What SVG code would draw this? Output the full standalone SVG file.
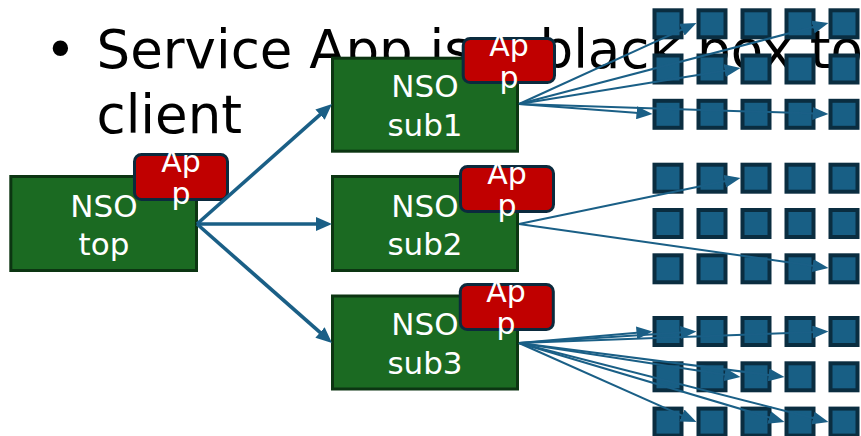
<svg xmlns="http://www.w3.org/2000/svg" width="861" height="436" viewBox="0 0 861 436">
<defs>
<style>
.title{font-family:"DejaVu Sans",sans-serif;font-size:53px;fill:#000}
.nso{fill:#1b6a22;stroke:#0c3512;stroke-width:3}
.app{fill:#c00000;stroke:#0b2a3d;stroke-width:3}
.lbl{font-family:"DejaVu Sans",sans-serif;font-size:31px;fill:#fff;text-anchor:middle}
.albl{font-family:"DejaVu Sans",sans-serif;font-size:30px;fill:#fff;text-anchor:middle}
.sq{fill:#185f85;stroke:#0a2d40;stroke-width:4}
.main{stroke:#1a5f86;stroke-width:3.6;fill:none;marker-end:url(#hm)}
.thin{stroke:#1a5f86;stroke-width:2;fill:none;marker-end:url(#ht)}
</style>
<marker id="hm" markerUnits="userSpaceOnUse" markerWidth="16" markerHeight="14" refX="11" refY="7" orient="auto"><path d="M0,0 L16,7 L0,14 z" fill="#1a5f86"/></marker>
<marker id="ht" markerUnits="userSpaceOnUse" markerWidth="16" markerHeight="13" refX="12" refY="6.5" orient="auto"><path d="M0,0 L16,6.5 L0,13 z" fill="#1a5f86"/></marker>
</defs>
<rect width="861" height="436" fill="#fff"/>
<g id="title">
<text class="title" x="60.5" y="68" text-anchor="middle">•</text>
<text class="title" y="68"><tspan x="96.5">Service App is</tspan><tspan x="539.5">black box to</tspan></text>
<text class="title" x="96.5" y="132.5">client</text>
</g>
<g id="grid">
<rect class="sq" x="654.5" y="10.3" width="27" height="27"/><rect class="sq" x="698.5" y="10.3" width="27" height="27"/><rect class="sq" x="742.5" y="10.3" width="27" height="27"/><rect class="sq" x="786.5" y="10.3" width="27" height="27"/><rect class="sq" x="830.5" y="10.3" width="27" height="27"/>
<rect class="sq" x="654.5" y="55.5" width="27" height="27"/><rect class="sq" x="698.5" y="55.5" width="27" height="27"/><rect class="sq" x="742.5" y="55.5" width="27" height="27"/><rect class="sq" x="786.5" y="55.5" width="27" height="27"/><rect class="sq" x="830.5" y="55.5" width="27" height="27"/>
<rect class="sq" x="654.5" y="100.8" width="27" height="27"/><rect class="sq" x="698.5" y="100.8" width="27" height="27"/><rect class="sq" x="742.5" y="100.8" width="27" height="27"/><rect class="sq" x="786.5" y="100.8" width="27" height="27"/><rect class="sq" x="830.5" y="100.8" width="27" height="27"/>
<rect class="sq" x="654.5" y="164.7" width="27" height="27"/><rect class="sq" x="698.5" y="164.7" width="27" height="27"/><rect class="sq" x="742.5" y="164.7" width="27" height="27"/><rect class="sq" x="786.5" y="164.7" width="27" height="27"/><rect class="sq" x="830.5" y="164.7" width="27" height="27"/>
<rect class="sq" x="654.5" y="210" width="27" height="27"/><rect class="sq" x="698.5" y="210" width="27" height="27"/><rect class="sq" x="742.5" y="210" width="27" height="27"/><rect class="sq" x="786.5" y="210" width="27" height="27"/><rect class="sq" x="830.5" y="210" width="27" height="27"/>
<rect class="sq" x="654.5" y="255.3" width="27" height="27"/><rect class="sq" x="698.5" y="255.3" width="27" height="27"/><rect class="sq" x="742.5" y="255.3" width="27" height="27"/><rect class="sq" x="786.5" y="255.3" width="27" height="27"/><rect class="sq" x="830.5" y="255.3" width="27" height="27"/>
<rect class="sq" x="654.5" y="318" width="27" height="27"/><rect class="sq" x="698.5" y="318" width="27" height="27"/><rect class="sq" x="742.5" y="318" width="27" height="27"/><rect class="sq" x="786.5" y="318" width="27" height="27"/><rect class="sq" x="830.5" y="318" width="27" height="27"/>
<rect class="sq" x="654.5" y="363.3" width="27" height="27"/><rect class="sq" x="698.5" y="363.3" width="27" height="27"/><rect class="sq" x="742.5" y="363.3" width="27" height="27"/><rect class="sq" x="786.5" y="363.3" width="27" height="27"/><rect class="sq" x="830.5" y="363.3" width="27" height="27"/>
<rect class="sq" x="654.5" y="408.6" width="27" height="27"/><rect class="sq" x="698.5" y="408.6" width="27" height="27"/><rect class="sq" x="742.5" y="408.6" width="27" height="27"/><rect class="sq" x="786.5" y="408.6" width="27" height="27"/><rect class="sq" x="830.5" y="408.6" width="27" height="27"/>
</g>
<g id="nso-top">
<rect class="nso" x="10.8" y="176.5" width="185.7" height="94"/>
<text class="lbl" x="104" y="216.5">NSO</text>
<text class="lbl" x="104" y="254.5">top</text>
</g>
<g id="app-top">
<rect class="app" x="134.5" y="154.5" width="93" height="45" rx="7"/>
<text class="albl" x="181" y="171.5">Ap</text>
<text class="albl" x="181" y="203.5">p</text>
</g>
<g id="nso-sub1">
<rect class="nso" x="332.5" y="58.2" width="185" height="93"/>
<text class="lbl" x="425" y="97">NSO</text>
<text class="lbl" x="425" y="135.5">sub1</text>
</g>
<g id="app-sub1">
<rect class="app" x="463.2" y="38.5" width="91.3" height="44" rx="7"/>
<text class="albl" x="509" y="55.5">Ap</text>
<text class="albl" x="509" y="87.5">p</text>
</g>
<g id="nso-sub2">
<rect class="nso" x="332.5" y="176.5" width="185" height="94"/>
<text class="lbl" x="425" y="216.5">NSO</text>
<text class="lbl" x="425" y="254.5">sub2</text>
</g>
<g id="app-sub2">
<rect class="app" x="460.5" y="166.5" width="93" height="45" rx="7"/>
<text class="albl" x="507" y="183.5">Ap</text>
<text class="albl" x="507" y="215.5">p</text>
</g>
<g id="nso-sub3">
<rect class="nso" x="332.5" y="296" width="185" height="93"/>
<text class="lbl" x="425" y="335">NSO</text>
<text class="lbl" x="425" y="373.5">sub3</text>
</g>
<g id="app-sub3">
<rect class="app" x="460.3" y="284.5" width="93" height="45" rx="7"/>
<text class="albl" x="506" y="301.5">Ap</text>
<text class="albl" x="506" y="333.5">p</text>
</g>
<g id="connectors">
<line class="main" x1="197" y1="224" x2="328.26" y2="107.32"/>
<line class="main" x1="197" y1="224" x2="327" y2="224"/>
<line class="main" x1="197" y1="224" x2="328.25" y2="339.69"/>
<line class="thin" x1="519" y1="104" x2="692.86" y2="24.66"/>
<line class="thin" x1="519" y1="104" x2="824.63" y2="24.01"/>
<line class="thin" x1="519" y1="104" x2="736.55" y2="68.64"/>
<line class="thin" x1="519" y1="104" x2="648.51" y2="113.7"/>
<line class="thin" x1="519" y1="104" x2="824.5" y2="113.87"/>
<line class="thin" x1="519" y1="224" x2="736.58" y2="178.81"/>
<line class="thin" x1="519" y1="224" x2="824.54" y2="267.44"/>
<line class="thin" x1="519" y1="343" x2="648.51" y2="331.84"/>
<line class="thin" x1="519" y1="343" x2="692.51" y2="331.76"/>
<line class="thin" x1="519" y1="343" x2="824.5" y2="331.65"/>
<line class="thin" x1="519" y1="343" x2="736.55" y2="376.39"/>
<line class="thin" x1="519" y1="343" x2="780.53" y2="376.49"/>
<line class="thin" x1="519" y1="343" x2="692.85" y2="420.37"/>
<line class="thin" x1="519" y1="343" x2="780.67" y2="420.86"/>
<line class="thin" x1="519" y1="343" x2="824.62" y2="421.01"/>
</g>
</svg>
